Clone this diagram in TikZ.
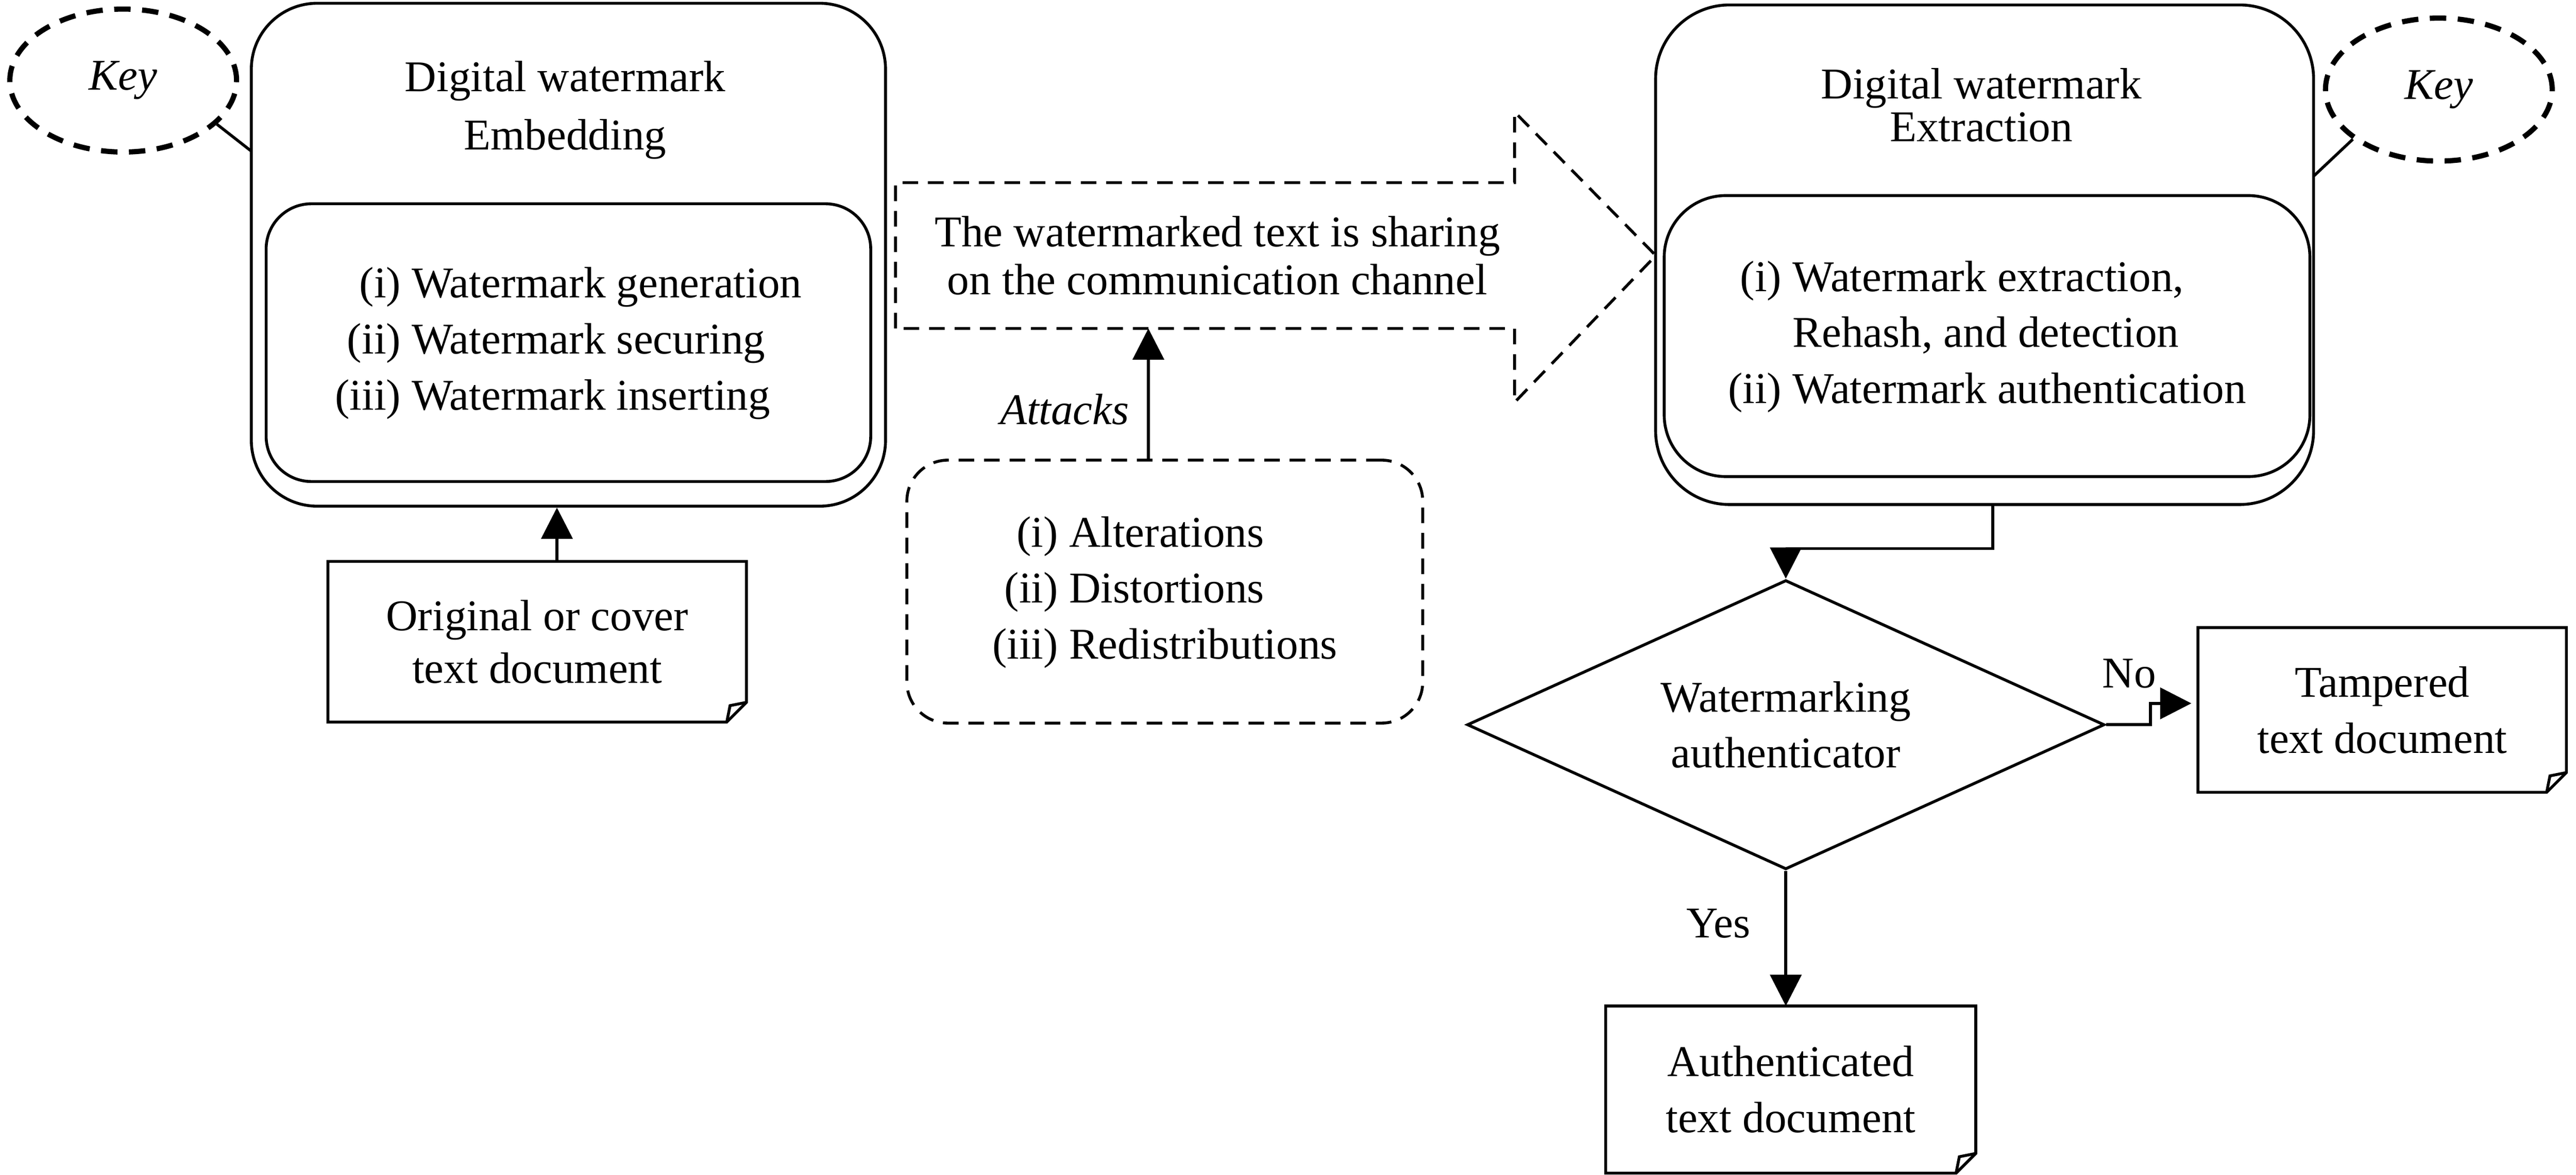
\documentclass[tikz,border=0pt]{standalone}
\usepackage{fontspec}
\setmainfont{Liberation Serif}
\usetikzlibrary{arrows.meta,shapes.geometric,positioning}
\newcommand{\wmfont}{\fontsize{15.2}{19.4}\selectfont}
\tikzset{
  box/.style={rectangle,draw,line width=1pt},
  keynode/.style={ellipse,draw,line width=1.8pt,dash pattern=on 2mm off 1.4mm,minimum width=27.6mm,minimum height=17.4mm,font=\wmfont\itshape},
  dashbox/.style={line width=1pt,dash pattern=on 1.9mm off 1.2mm},
  docbox/.style={rectangle,align=center,inner sep=0pt},
  arr/.style={line width=1pt,-{Triangle[length=3.8mm,width=3.8mm]}}
}
\begin{document}
\begin{tikzpicture}[x=0.2mm,y=-0.2mm,line width=1pt,font=\wmfont]
\useasboundingbox (0,0) rectangle (1568,715);
\node[box,rounded corners=8mm,minimum width=77.2mm,minimum height=61.2mm] (emb) at (346,155) {};
\node[align=center] (embt) at (344,67) {Digital watermark\\[0.8pt]Embedding};
\node[box,rounded corners=5.5mm,minimum width=73.6mm,minimum height=33.8mm] (embin) at (346,208.5) {\begin{tabular}{@{}r@{\ }l@{}}(i)&Watermark generation\\(ii)&Watermark securing\\(iii)&Watermark inserting\end{tabular}};
\node[keynode] (keyL) at (75,49) {Key};
\coordinate (kl) at (153,92);
\draw (keyL.-25) -- (kl);
\node[docbox,minimum width=50.6mm,minimum height=19.2mm] (orig) at (327,390.5) {Original or cover\\[-1.2pt]text document};
\coordinate (origtop) at ([shift={(12,0)}]orig.north);
\draw[arr] (origtop) -- (origtop |- emb.south);
\node[align=center,inner sep=0pt,minimum width=75mm,minimum height=17.4mm] (chan) at (733.5,155.5) {\hspace*{3mm}The watermarked text is sharing\\[-2.9pt]\hspace*{3mm}on the communication channel};
\draw[dashbox] (chan.south west) -- (chan.north west) -- (chan.north east) -- ++(0,-43) -- ([shift={(86,0)}]chan.east) -- ([shift={(0,45)}]chan.south east) -- (chan.south east) -- cycle;
\node[draw,dashbox,rounded corners=5mm,minimum width=62.8mm,minimum height=32mm] (atk) at (709,360) {\begin{tabular}{@{}r@{\ }l@{}}(i)&Alterations\\(ii)&Distortions\\(iii)&Redistributions\end{tabular}};
\node (atkt) at (648,249) {\itshape Attacks};
\coordinate (atkfoot) at ([shift={(-10,0)}]atk.north);
\draw[arr] (atkfoot) -- (atkfoot |- chan.south);
\node[box,rounded corners=9mm,minimum width=80.1mm,minimum height=60.8mm] (ext) at (1208,155) {};
\node[align=center] (extt) at (1206,64) {Digital watermark\\[-4.6pt]Extraction};
\node[box,rounded corners=7.5mm,minimum width=78.6mm,minimum height=34.2mm] (extin) at (1209.5,204.5) {\begin{tabular}{@{}r@{\ }l@{}}(i)&Watermark extraction,\\&Rehash, and detection\\(ii)&Watermark authentication\end{tabular}};
\node[keynode] (keyR) at (1484.5,54.5) {Key};
\coordinate (kr) at (1408.5,107);
\draw (keyR.210) -- (kr);
\node[diamond,draw,align=center,inner sep=0pt,aspect=2.2,minimum width=77.6mm,minimum height=35.2mm] (auth) at (1087,441) {Watermarking\\authenticator};
\coordinate (extfoot) at ([shift={(5,0)}]ext.south);
\draw[arr] (extfoot) -- ++(0,26) -| (auth.north);
\node[docbox,minimum width=44.5mm,minimum height=19.7mm] (tamp) at (1450,432) {Tampered\\text document};
\draw[arr] (auth.east) -- ++(27,0) |- ([shift={(-4,-4)}]tamp.west);
\node (no) at (1296,410) {No};
\node[docbox,minimum width=44.7mm,minimum height=20mm] (authd) at (1090,663) {Authenticated\\text document};
\draw[arr] (auth.south) -- (auth.south |- authd.north);
\node (yes) at (1046,562) {Yes};
\foreach \d in {orig,tamp,authd}{
  \draw (\d.north west) -- (\d.north east) -- ([shift={(0,-12)}]\d.south east) -- ([shift={(-12,0)}]\d.south east) -- (\d.south west) -- cycle;
  \draw ([shift={(0,-12)}]\d.south east) -- ([shift={(-10,-10)}]\d.south east) -- ([shift={(-12,0)}]\d.south east);
}
\end{tikzpicture}
\end{document}
